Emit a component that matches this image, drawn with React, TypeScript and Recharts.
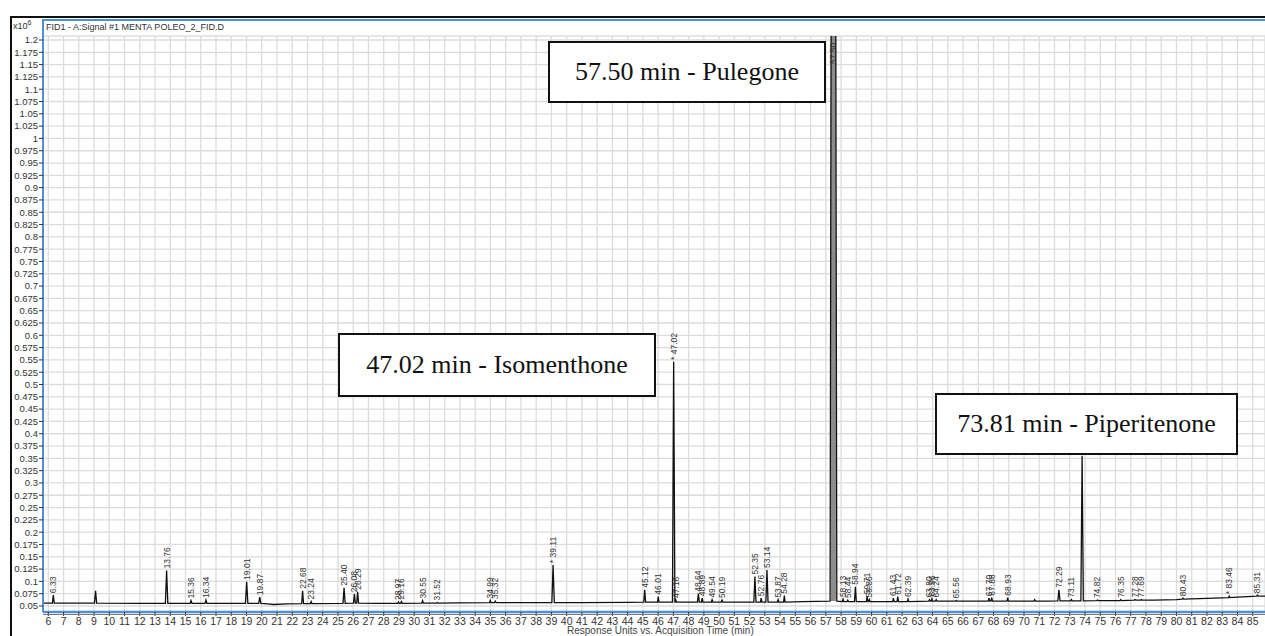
import React from 'react'
import { CartesianGrid, ComposedChart, Line, Scatter, XAxis, YAxis } from 'recharts'

// detected peaks: retention time (min), apex height, local baseline, base width (min), label
const peakTimes = [
  6.33, 9.1, 13.76, 15.36, 16.34, 19.01, 19.87, 22.68, 23.24, 25.4, 26.08, 26.29,
  28.97, 29.16, 30.55, 31.52, 34.99, 35.32, 39.11, 45.12, 46.01, 47.02, 47.16,
  48.64, 48.89, 49.54, 50.19, 52.35, 52.76, 53.14, 53.87, 54.28, 57.5, 58.13,
  58.44, 58.94, 59.71, 59.86, 61.43, 61.72, 62.39, 63.8, 63.96, 64.24, 65.56,
  67.7, 67.88, 68.93, 70.7, 72.29, 73.11, 73.81, 74.82, 76.35, 77.28, 77.69,
  80.43, 83.46, 85.31,
]
const peakHeights = [
  0.072, 0.081, 0.122, 0.061, 0.062, 0.099, 0.068, 0.081, 0.059, 0.087, 0.074, 0.079,
  0.058, 0.059, 0.061, 0.057, 0.061, 0.06, 0.133, 0.083, 0.069, 0.546, 0.062,
  0.075, 0.066, 0.063, 0.062, 0.11, 0.066, 0.123, 0.063, 0.071, 4.0, 0.064,
  0.062, 0.089, 0.07, 0.063, 0.066, 0.069, 0.064, 0.063, 0.065, 0.063, 0.061,
  0.066, 0.067, 0.067, 0.063, 0.083, 0.063, 0.355, 0.062, 0.063, 0.063, 0.063,
  0.066, 0.07, 0.072,
]
const peakBases = [
  0.056, 0.056, 0.0555, 0.0555, 0.0555, 0.0555, 0.0555, 0.055, 0.055, 0.0555, 0.056, 0.056,
  0.0555, 0.0555, 0.056, 0.056, 0.057, 0.057, 0.057, 0.058, 0.058, 0.058, 0.058,
  0.058, 0.058, 0.058, 0.058, 0.058, 0.058, 0.058, 0.058, 0.058, 0.06, 0.059,
  0.059, 0.059, 0.059, 0.059, 0.059, 0.059, 0.059, 0.06, 0.06, 0.06, 0.06,
  0.06, 0.06, 0.06, 0.06, 0.0605, 0.0605, 0.0605, 0.061, 0.061, 0.062, 0.062,
  0.064, 0.067, 0.07,
]
const peakWidths = [
  0.12, 0.14, 0.16, 0.12, 0.12, 0.16, 0.14, 0.12, 0.1, 0.14, 0.12, 0.12,
  0.1, 0.1, 0.1, 0.1, 0.1, 0.1, 0.16, 0.12, 0.1, 0.16, 0.08,
  0.12, 0.1, 0.1, 0.1, 0.14, 0.1, 0.14, 0.1, 0.1, 0.44, 0.1,
  0.1, 0.12, 0.1, 0.1, 0.1, 0.1, 0.1, 0.1, 0.1, 0.1, 0.1,
  0.1, 0.1, 0.1, 0.1, 0.14, 0.1, 0.16, 0.1, 0.1, 0.1, 0.1,
  0.1, 0.1, 0.1,
]
const peakLabels = [
  '6.33', '', '13.76', '15.36', '16.34', '19.01', '19.87', '22.68', '23.24', '25.40', '26.08', '26.29',
  '28.97', '29.16', '30.55', '31.52', '34.99', '35.32', '* 39.11', '45.12', '46.01', '* 47.02', '47.16',
  '48.64', '48.89', '49.54', '50.19', '52.35', '52.76', '53.14', '53.87', '54.28', '57.50', '58.13',
  '58.44', '58.94', '59.71', '59.86', '61.43', '61.72', '62.39', '63.80', '63.96', '64.24', '65.56',
  '67.70', '67.88', '68.93', '', '72.29', '73.11', '73.81', '74.82', '76.35', '77.28', '77.69',
  '80.43', '* 83.46', '85.31',
]

// drifting baseline between peaks
const baselineTimes = [5.65, 8.5, 12.0, 18.0, 20.4, 20.8, 21.6, 27.5, 33.0, 41.0, 44.0, 51.0, 55.5, 60.5, 66.5, 71.5, 75.5, 78.5, 80.0, 82.5, 84.0, 85.9]
const baselineValues = [0.056, 0.056, 0.0555, 0.0555, 0.0545, 0.053, 0.0545, 0.0555, 0.0565, 0.057, 0.0575, 0.058, 0.059, 0.059, 0.06, 0.06, 0.061, 0.062, 0.063, 0.066, 0.068, 0.07]

const xTicks = [
  6, 7, 8, 9, 10, 11, 12, 13, 14, 15, 16, 17, 18, 19, 20, 21, 22, 23, 24, 25, 26, 27, 28, 29, 30,
  31, 32, 33, 34, 35, 36, 37, 38, 39, 40, 41, 42, 43, 44, 45, 46, 47, 48, 49, 50, 51, 52, 53, 54,
  55, 56, 57, 58, 59, 60, 61, 62, 63, 64, 65, 66, 67, 68, 69, 70, 71, 72, 73, 74, 75, 76, 77, 78,
  79, 80, 81, 82, 83, 84, 85,
]
const yTicks = [
  0.05, 0.075, 0.1, 0.125, 0.15, 0.175, 0.2, 0.225, 0.25, 0.275, 0.3, 0.325, 0.35, 0.375, 0.4,
  0.425, 0.45, 0.475, 0.5, 0.525, 0.55, 0.575, 0.6, 0.625, 0.65, 0.675, 0.7, 0.725, 0.75, 0.775,
  0.8, 0.825, 0.85, 0.875, 0.9, 0.925, 0.95, 0.975, 1, 1.025, 1.05, 1.075, 1.1, 1.125, 1.15,
  1.175, 1.2,
]

const trace = [
  ...baselineTimes.map((t, i) => ({ t, v: baselineValues[i] })),
  ...peakTimes.flatMap((t, i) => [
    { t: t - peakWidths[i] / 2, v: peakBases[i] },
    { t, v: peakHeights[i] },
    { t: t + peakWidths[i] / 2, v: peakBases[i] },
  ]),
].sort((a, b) => a.t - b.t)

// the off-scale pulegone peak is drawn as a saturated band
const mainIdx = peakHeights.indexOf(Math.max(...peakHeights))
const mainPeak = [
  { t: peakTimes[mainIdx], v: peakBases[mainIdx] },
  { t: peakTimes[mainIdx], v: peakHeights[mainIdx] },
]

const apexes = peakTimes
  .map((t, i) => ({ t, h: peakHeights[i], label: peakLabels[i] }))
  .filter((p) => p.label !== '')

const SANS = "'Liberation Sans', Arial, sans-serif"
const SERIF = "'Liberation Serif', 'Times New Roman', serif"
const BLUE = '#4f8fd6'

const PeakLabel = (props: any) => {
  const { cx, cy, payload } = props
  const y = Math.max(cy, 66) - 2
  return (
    <text
      x={cx}
      y={y}
      dy={3}
      transform={`rotate(-90 ${cx} ${y})`}
      fontSize={8.5}
      fill="#333"
      fontFamily={SANS}
    >
      {payload.label}
    </text>
  )
}

const boxes = [
  { text: '57.50 min - Pulegone', left: 548, top: 41, width: 278, height: 62 },
  { text: '47.02 min - Isomenthone', left: 338, top: 333, width: 318, height: 64 },
  { text: '73.81 min - Piperitenone', left: 935, top: 393, width: 303, height: 62 },
]

export default function App() {
  return (
    <div
      style={{
        position: 'absolute',
        left: 0,
        top: 0,
        width: 1265,
        height: 636,
        overflow: 'hidden',
        background: '#fff',
      }}
    >
      <ComposedChart
        width={1265}
        height={636}
        margin={{ top: 36, right: 0, bottom: 0, left: 0 }}
        style={{ fontFamily: SANS }}
      >
        <CartesianGrid stroke="#dcdcdc" strokeWidth={1.3} />
        <XAxis
          type="number"
          dataKey="t"
          domain={[5.652, 85.807]}
          allowDataOverflow
          ticks={xTicks}
          interval={0}
          height={24}
          tickSize={4}
          tickMargin={2}
          tick={{ fontSize: 10.5, fill: '#333', fontFamily: SANS }}
          axisLine={{ stroke: BLUE, strokeWidth: 2.5 }}
          tickLine={{ stroke: '#333' }}
        />
        <YAxis
          type="number"
          domain={[0.0378, 1.2081]}
          allowDataOverflow
          ticks={yTicks}
          interval={0}
          width={43}
          tickSize={4}
          tickMargin={1}
          tickFormatter={(v: number) => String(v)}
          tick={{ fontSize: 9.5, fill: '#333', fontFamily: SANS }}
          axisLine={{ stroke: BLUE, strokeWidth: 2 }}
          tickLine={{ stroke: '#333' }}
        />
        <Line
          data={mainPeak}
          dataKey="v"
          type="linear"
          stroke="#8c8c8c"
          strokeWidth={5}
          dot={false}
          activeDot={false}
          isAnimationActive={false}
        />
        <Line
          data={trace}
          dataKey="v"
          type="linear"
          stroke="#111"
          strokeWidth={1.3}
          dot={false}
          activeDot={false}
          isAnimationActive={false}
        />
        <Scatter data={apexes} dataKey="h" shape={PeakLabel} isAnimationActive={false} />
      </ComposedChart>

      {/* outer frame and header band */}
      <div style={{ position: 'absolute', left: 10, top: 16, width: 1300, height: 700, borderTop: '2.5px solid #111', borderLeft: '2.5px solid #111' }} />
      <div style={{ position: 'absolute', left: 42, top: 18.5, width: 1300, height: 18, borderTop: `2px solid ${BLUE}`, borderLeft: `2px solid ${BLUE}` }} />
      <div style={{ position: 'absolute', left: 43, top: 613.5, width: 1300, height: 1.5, background: '#777' }} />
      <div style={{ position: 'absolute', left: 13, top: 21, fontFamily: SANS, fontSize: 9, color: '#333' }}>
        x10<sup style={{ fontSize: 7, verticalAlign: 'top', position: 'relative', top: -2 }}>6</sup>
      </div>
      <div style={{ position: 'absolute', left: 46, top: 21.5, fontFamily: SANS, fontSize: 9, color: '#333', whiteSpace: 'nowrap' }}>
        FID1 - A:Signal #1 MENTA POLEO_2_FID.D
      </div>
      <div style={{ position: 'absolute', left: 567, top: 625, fontFamily: SANS, fontSize: 10, color: '#444', whiteSpace: 'nowrap' }}>
        Response Units vs. Acquisition Time (min)
      </div>

      {boxes.map((b) => (
        <div
          key={b.text}
          style={{
            position: 'absolute',
            left: b.left,
            top: b.top,
            width: b.width,
            height: b.height,
            boxSizing: 'border-box',
            border: '2.5px solid #111',
            background: '#fff',
            display: 'flex',
            alignItems: 'center',
            justifyContent: 'center',
            fontFamily: SERIF,
            fontSize: 26,
            color: '#111',
            whiteSpace: 'nowrap',
          }}
        >
          {b.text}
        </div>
      ))}
    </div>
  )
}
